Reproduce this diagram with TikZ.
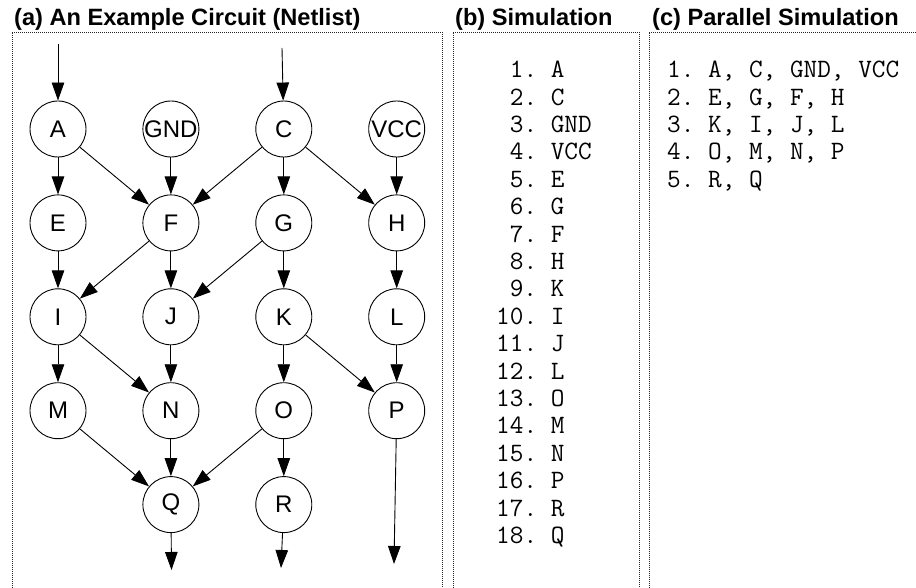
\documentclass[tikz,border=0pt]{standalone}
\usepackage{fontspec}
\setmainfont{Liberation Sans}
\usetikzlibrary{positioning,arrows.meta}

\begin{document}
\begin{tikzpicture}[
  x=1pt,y=-1pt,>={Triangle[length=18pt,width=12.5pt]},
  gate/.style={draw,circle,line width=0.9pt,minimum size=56pt,inner sep=0pt,
               font=\fontsize{24}{24}\selectfont},
  wire/.style={->,line width=0.9pt},
  panel/.style={draw=black!85,line width=0.9pt,dash pattern=on 1pt off 1pt},
  ttl/.style={anchor=base west,inner sep=0pt,font=\fontsize{23.6}{25}\selectfont\bfseries},
  lst/.style={anchor=base west,inner sep=0pt,
              font=\fontsize{26.5}{28}\selectfont\ttfamily\frenchspacing},
  node distance=37pt and 56pt,
]
  \useasboundingbox (0,0) rectangle (916,588);

  % panel frames, open at the bottom
  \draw[panel] (12,588) -- (12,32) -- (442,32) -- (442,588);
  \draw[panel] (453,588) -- (453,32) -- (639,32) -- (639,588);
  \draw[panel] (649,588) -- (649,32) -- (916,32);

  \node[ttl] (ta) at (14,25.5) {(a) An Example Circuit (Netlist)};
  \node[ttl] (tb) at (455,25.5) {(b) Simulation};
  \node[ttl] (tc) at (652,25.5) {(c) Parallel Simulation};

  % netlist
  \node[gate] (a) at (58,129) {A};
  \node[gate,right=of a] (gnd) {GND};
  \node[gate,right=of gnd] (c) {C};
  \node[gate,right=of c] (vcc) {VCC};
  \node[gate,below=of a] (e) {E};
  \node[gate,below=of gnd] (f) {F};
  \node[gate,below=of c] (g) {G};
  \node[gate,below=of vcc] (h) {H};
  \node[gate,below=of e] (i) {I};
  \node[gate,below=of f] (j) {J};
  \node[gate,below=of g] (k) {K};
  \node[gate,below=of h] (l) {L};
  \node[gate,below=of i] (m) {M};
  \node[gate,below=of j] (n) {N};
  \node[gate,below=of k] (o) {O};
  \node[gate,below=of l] (p) {P};
  \node[gate,below=of n] (q) {Q};
  \node[gate,below=of o] (r) {R};

  \coordinate (ina) at (58,44);
  \coordinate (inc) at (282,48);
  \coordinate (outq) at (171.5,570);
  \coordinate (outr) at (281,568);
  \coordinate (outp) at (394,564);

  \draw[wire] (ina) -- (a);
  \draw[wire] (inc) -- (c);
  \foreach \s/\t in {a/e,a/f,gnd/f,c/f,c/g,c/h,vcc/h,
                     e/i,f/i,f/j,g/j,g/k,h/l,
                     i/m,i/n,j/n,k/o,k/p,l/p,
                     m/q,n/q,o/q,o/r}
    \draw[wire] (\s) -- (\t);
  \draw[wire] (q) -- (outq);
  \draw[wire] (r) -- (outr);
  \draw[wire] (p) -- (outp);

  % serial order
  \foreach \g [count=\i] in {A,C,GND,VCC,E,G,F,H,K,I,J,L,O,M,N,P,R,Q}
    \node[lst] (b\i) at (496,{77.7+27.4*(\i-1)})
      {\ifnum\i<10 \phantom{1}\fi\i. \g};

  % levelized order
  \foreach \row [count=\i] in {{A, C, GND, VCC},{E, G, F, H},{K, I, J, L},
                               {O, M, N, P},{R, Q}}
    \node[lst] (c\i) at (667,{77.7+27.4*(\i-1)}) {\i. \row};
\end{tikzpicture}
\end{document}
